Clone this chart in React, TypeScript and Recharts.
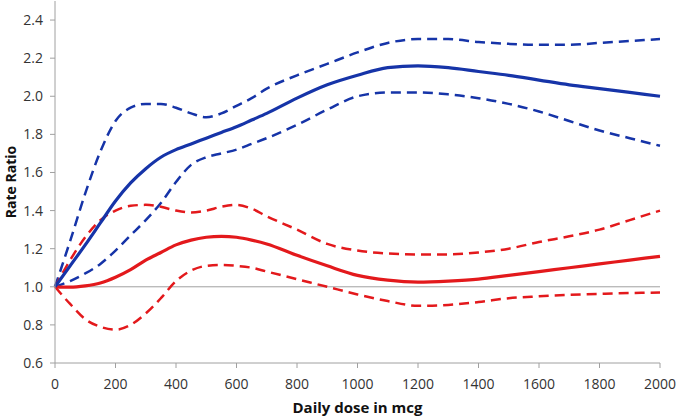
import React from "react";
import { LineChart, Line, XAxis, YAxis, ReferenceLine } from "recharts";

const doses = [0, 50, 100, 150, 200, 250, 300, 350, 400, 450, 500, 550, 600, 650, 700, 800, 900, 1000, 1100, 1200, 1300, 1400, 1500, 1600, 1700, 1800, 1900, 2000];

const blueRR = [1.0, 1.11, 1.22, 1.335, 1.45, 1.545, 1.62, 1.68, 1.72, 1.75, 1.78, 1.81, 1.84, 1.875, 1.91, 1.99, 2.06, 2.11, 2.15, 2.16, 2.15, 2.13, 2.11, 2.085, 2.06, 2.04, 2.02, 2.0];
const blueUpper = [1.0, 1.24, 1.49, 1.71, 1.87, 1.94, 1.96, 1.96, 1.94, 1.91, 1.89, 1.91, 1.95, 1.99, 2.04, 2.11, 2.17, 2.23, 2.28, 2.3, 2.3, 2.285, 2.275, 2.27, 2.27, 2.28, 2.29, 2.3];
const blueLower = [1.0, 1.03, 1.07, 1.12, 1.19, 1.27, 1.35, 1.44, 1.55, 1.64, 1.68, 1.7, 1.72, 1.75, 1.78, 1.85, 1.93, 2.0, 2.02, 2.02, 2.01, 1.99, 1.96, 1.92, 1.87, 1.82, 1.78, 1.74];

const redRR = [1.0, 0.998, 1.005, 1.02, 1.05, 1.09, 1.14, 1.18, 1.22, 1.245, 1.26, 1.265, 1.26, 1.245, 1.225, 1.165, 1.11, 1.06, 1.035, 1.025, 1.03, 1.04, 1.06, 1.08, 1.1, 1.12, 1.14, 1.16];
const redUpper = [1.0, 1.14, 1.26, 1.35, 1.4, 1.425, 1.43, 1.42, 1.4, 1.39, 1.4, 1.42, 1.43, 1.41, 1.37, 1.3, 1.225, 1.19, 1.175, 1.17, 1.17, 1.18, 1.2, 1.235, 1.265, 1.3, 1.35, 1.4];
const redLower = [1.0, 0.91, 0.83, 0.79, 0.775, 0.8, 0.86, 0.94, 1.03, 1.085, 1.11, 1.115, 1.11, 1.1, 1.08, 1.04, 1.0, 0.96, 0.925, 0.9, 0.905, 0.92, 0.94, 0.95, 0.958, 0.963, 0.967, 0.97];

const xTicks = [0, 200, 400, 600, 800, 1000, 1200, 1400, 1600, 1800, 2000];
const yTicks = [0.6, 0.8, 1.0, 1.2, 1.4, 1.6, 1.8, 2.0, 2.2, 2.4];

const data = doses.map((d, i) => ({
  dose: d,
  blueRR: blueRR[i],
  blueUpper: blueUpper[i],
  blueLower: blueLower[i],
  redRR: redRR[i],
  redUpper: redUpper[i],
  redLower: redLower[i],
}));

const BLUE = "#1634a8";
const RED = "#e3191c";
const AXIS = "#a0a0a0";
const FONT = "'Open Sans', sans-serif";

const tickStyle = { fill: "#333", fontSize: 14, fontFamily: FONT };

export default function App() {
  return (
    <div style={{ position: "absolute", left: 0, top: 0, width: 677, height: 418, background: "#fff" }}>
      <LineChart width={677} height={418} data={data} margin={{ top: 1, right: 17, bottom: 0, left: 0 }}>
        <XAxis
          dataKey="dose"
          type="number"
          domain={[0, 2000]}
          ticks={xTicks}
          height={55}
          tickSize={5}
          tickMargin={11}
          tick={tickStyle}
          axisLine={{ stroke: AXIS }}
          tickLine={{ stroke: AXIS }}
          label={{
            content: (props: any) => {
              const vb = props.viewBox;
              return (
                <text
                  x={vb.x + vb.width / 2}
                  y={vb.y + 50}
                  textAnchor="middle"
                  fontFamily={FONT}
                  fontWeight="bold"
                  fontSize={15}
                  fill="#111"
                >
                  Daily dose in mcg
                </text>
              );
            },
          }}
        />
        <YAxis
          type="number"
          domain={[0.6, 2.5]}
          ticks={yTicks}
          width={55}
          tickSize={5}
          tickMargin={7}
          tick={tickStyle}
          tickFormatter={(v: number) => v.toFixed(1)}
          axisLine={{ stroke: AXIS }}
          tickLine={{ stroke: AXIS }}
          allowDataOverflow
          label={{
            content: (props: any) => {
              const vb = props.viewBox;
              const cx = 10;
              const cy = vb.y + vb.height / 2;
              return (
                <text
                  x={cx}
                  y={cy}
                  transform={`rotate(-90, ${cx}, ${cy})`}
                  textAnchor="middle"
                  dominantBaseline="central"
                  fontFamily={FONT}
                  fontWeight="bold"
                  fontSize={14}
                  fill="#111"
                >
                  Rate Ratio
                </text>
              );
            },
          }}
        />
        <ReferenceLine y={1} stroke={AXIS} strokeWidth={1} />
        <Line dataKey="blueUpper" type="monotone" stroke={BLUE} strokeWidth={2.5} strokeDasharray="10 6" dot={false} isAnimationActive={false} />
        <Line dataKey="blueLower" type="monotone" stroke={BLUE} strokeWidth={2.5} strokeDasharray="10 6" dot={false} isAnimationActive={false} />
        <Line dataKey="redUpper" type="monotone" stroke={RED} strokeWidth={2.5} strokeDasharray="10 6" dot={false} isAnimationActive={false} />
        <Line dataKey="redLower" type="monotone" stroke={RED} strokeWidth={2.5} strokeDasharray="10 6" dot={false} isAnimationActive={false} />
        <Line dataKey="redRR" type="monotone" stroke={RED} strokeWidth={3.2} dot={false} isAnimationActive={false} />
        <Line dataKey="blueRR" type="monotone" stroke={BLUE} strokeWidth={3.2} dot={false} isAnimationActive={false} />
      </LineChart>
    </div>
  );
}
